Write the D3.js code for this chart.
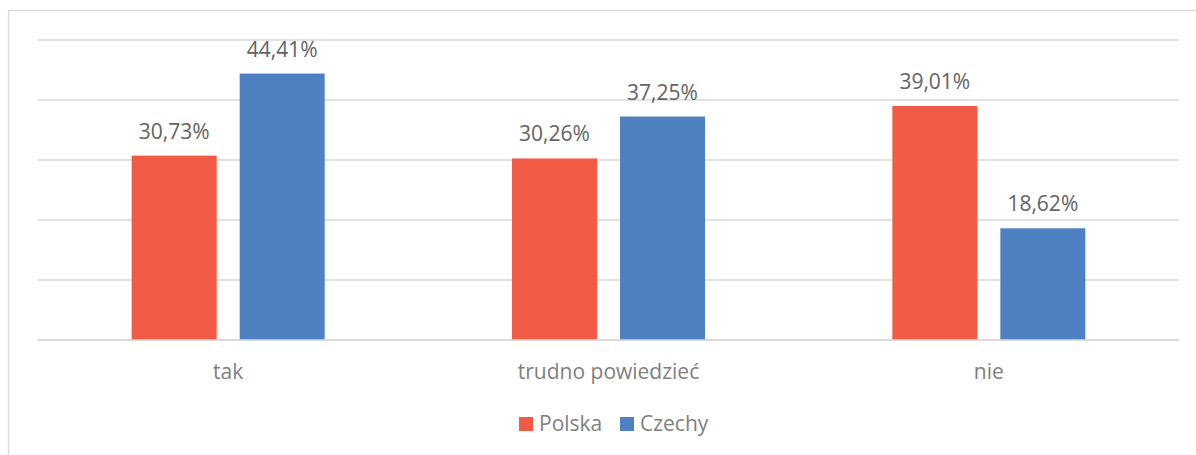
<!DOCTYPE html>
<html><head><meta charset="utf-8">
<script src="https://cdn.jsdelivr.net/npm/d3@7"></script>
<style>body{margin:0;background:#fff;} svg{display:block;}</style>
</head><body>
<svg id="chart" width="1196" height="455"></svg>
<script>
const categories = ["tak", "trudno powiedzieć", "nie"];
const seriesNames = ["Polska", "Czechy"];
const polska = [30.73, 30.26, 39.01];
const czechy = [44.41, 37.25, 18.62];
const yTicks = [0, 10, 20, 30, 40, 50];
const colors = ["#F15A45", "#4F81C2"];

const svg = d3.select("#chart");
const font = "'Open Sans', sans-serif";

// chart border (extends past right/bottom edge)
svg.append("rect").attr("x", 8.5).attr("y", 10.5).attr("width", 1300).attr("height", 600)
  .attr("fill", "none").attr("stroke", "#d9d9d9").attr("stroke-width", 1.3);

const plotLeft = 38, plotRight = 1179, plotTop = 40, plotBottom = 340;
const y = d3.scaleLinear().domain([0, 50]).range([plotBottom, plotTop]);
const x0 = d3.scaleBand().domain(categories).range([plotLeft, plotRight]).paddingInner(0.4925).paddingOuter(0.24625);
const x1 = d3.scaleBand().domain(seriesNames).range([0, x0.bandwidth()]).paddingInner(0.213);

// gridlines
svg.append("g").selectAll("line").data(yTicks).join("line")
  .attr("x1", plotLeft).attr("x2", plotRight)
  .attr("y1", d => y(d)).attr("y2", d => y(d))
  .attr("stroke", "#d9d9d9").attr("stroke-width", 1.3);

const data = categories.map((c, i) => ({cat: c, vals: [
  {s: seriesNames[0], v: polska[i], c: colors[0]},
  {s: seriesNames[1], v: czechy[i], c: colors[1]}]}));

const groups = svg.append("g").selectAll("g").data(data).join("g")
  .attr("transform", d => `translate(${x0(d.cat)},0)`);

groups.selectAll("rect").data(d => d.vals).join("rect")
  .attr("x", d => x1(d.s)).attr("width", x1.bandwidth())
  .attr("y", d => y(d.v)).attr("height", d => y(0) - y(d.v))
  .attr("fill", d => d.c);

groups.selectAll("text").data(d => d.vals).join("text")
  .attr("x", d => x1(d.s) + x1.bandwidth() / 2)
  .attr("y", d => y(d.v) - 17)
  .attr("text-anchor", "middle")
  .attr("font-family", font).attr("font-size", 21).attr("fill", "#636363")
  .text(d => d.v.toFixed(2).replace(".", ",") + "%");

// redraw baseline on top
svg.append("line").attr("x1", plotLeft).attr("x2", plotRight).attr("y1", y(0)).attr("y2", y(0))
  .attr("stroke", "#d9d9d9").attr("stroke-width", 1.3);

// category axis labels
svg.append("g").selectAll("text").data(categories).join("text")
  .attr("x", d => x0(d) + x0.bandwidth() / 2).attr("y", 379)
  .attr("text-anchor", "middle")
  .attr("font-family", font).attr("font-size", 21).attr("fill", "#7f7f7f")
  .text(d => d);

// legend
const legend = svg.append("g");
const legendX = [519, 620];
seriesNames.forEach((s, i) => {
  legend.append("rect").attr("x", legendX[i]).attr("y", 417).attr("width", 14).attr("height", 14).attr("fill", colors[i]);
  legend.append("text").attr("x", legendX[i] + 20).attr("y", 431)
    .attr("font-family", font).attr("font-size", 21).attr("fill", "#7f7f7f").text(s);
});
</script>
</body></html>
